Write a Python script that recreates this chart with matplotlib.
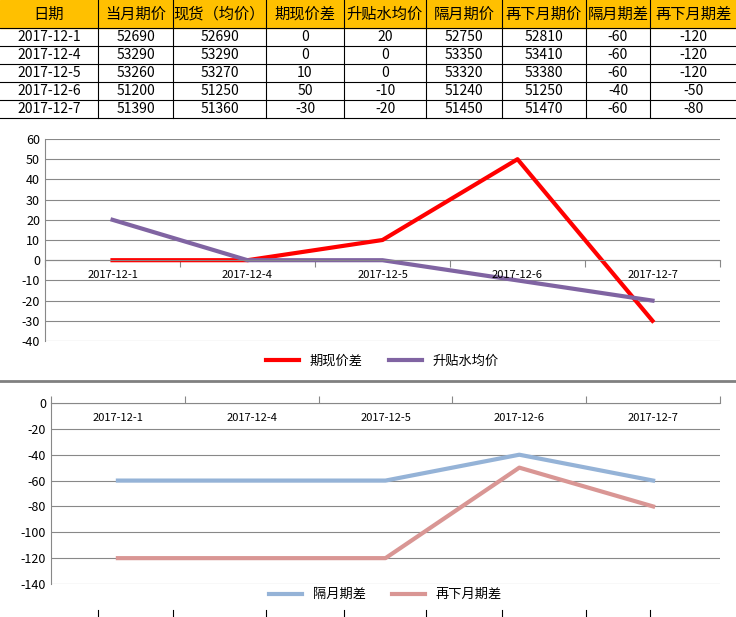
import matplotlib.pyplot as plt
from matplotlib.patches import Rectangle

plt.rcParams["font.family"] = ["Noto Sans CJK SC"]
plt.rcParams["axes.unicode_minus"] = False

dates = ["2017-12-1", "2017-12-4", "2017-12-5", "2017-12-6", "2017-12-7"]
headers = ["日期", "当月期价", "现货（均价）", "期现价差", "升贴水均价", "隔月期价", "再下月期价", "隔月期差", "再下月期差"]
cur_month = [52690, 53290, 53260, 51200, 51390]
spot = [52690, 53290, 53270, 51250, 51360]
basis = [0, 0, 10, 50, -30]
premium = [20, 0, 0, -10, -20]
next_month = [52750, 53350, 53320, 51240, 51450]
next2_month = [52810, 53410, 53380, 51250, 51470]
next_diff = [-60, -60, -60, -40, -60]
next2_diff = [-120, -120, -120, -50, -80]

W, H = 736, 617
fig = plt.figure(figsize=(W / 100, H / 100), dpi=100)

def box(x0, y0, x1, y1):
    return [x0 / W, 1 - y1 / H, (x1 - x0) / W, (y1 - y0) / H]

# table
tab = fig.add_axes([0, 0, 1, 1])
tab.set_xlim(0, W)
tab.set_ylim(H, 0)
tab.axis("off")
cols = [0, 98, 173, 266, 344, 426, 502, 586, 650, 736]
rows_y = [0, 28, 46, 64, 82, 100, 118]
tab.add_patch(Rectangle((0, 0), W, 28, color="#ffc000", zorder=0))
for i, h in enumerate(headers):
    tab.text((cols[i] + cols[i + 1]) / 2, 14, h, ha="center", va="center", fontsize=11)
table_rows = list(zip(dates, cur_month, spot, basis, premium, next_month, next2_month, next_diff, next2_diff))
for r, vals in enumerate(table_rows):
    yc = (rows_y[r + 1] + rows_y[r + 2]) / 2
    for i, v in enumerate(vals):
        tab.text((cols[i] + cols[i + 1]) / 2, yc, str(v), ha="center", va="center", fontsize=10)
for x in cols[1:-1]:
    tab.plot([x, x], [0, 118], color="black", lw=0.8)
for y in rows_y[1:]:
    tab.plot([0, W], [y, y], color="black", lw=0.8)
tab.plot([0, W], [381, 381], color="#808080", lw=2)
for x in [98, 173, 266, 344, 426, 502, 586, 650]:
    tab.plot([x, x], [610, 617], color="black", lw=0.8)


def chart(rect, series, colors, names, ylo, yhi, step, legend_y, tickdir):
    ax = fig.add_axes(rect)
    xs = range(len(dates))
    for s, c, n in zip(series, colors, names):
        ax.plot(xs, s, color=c, lw=3, label=n)
    ax.set_xlim(-0.5, len(dates) - 0.5)
    ax.set_ylim(ylo, yhi)
    ax.set_yticks(range(ylo, yhi + 1, step))
    ax.yaxis.grid(True, color="#888888", lw=0.8)
    ax.set_axisbelow(True)
    for sp in ["top", "right"]:
        ax.spines[sp].set_visible(False)
    ax.spines["left"].set_color("#888888")
    ax.spines["bottom"].set_position(("data", 0))
    ax.spines["bottom"].set_color("#888888")
    ax.set_xticks([x + 0.5 for x in range(-1, len(dates))])
    ax.set_xticklabels([])
    ax.tick_params(axis="x", length=5, color="#888888", direction=tickdir)
    ax.tick_params(axis="y", labelsize=9, length=0)
    for x, d in enumerate(dates):
        ax.annotate(d, (x, 0), xytext=(0, -11), textcoords="offset points",
                    ha="center", va="center", fontsize=8)
    ax.legend(loc="center", bbox_to_anchor=(0.5, legend_y), ncol=2, frameon=False,
              fontsize=9.5, handlelength=2.5)
    return ax

chart(box(45, 139, 720, 341), [basis, premium], ["#ff0000", "#8064a2"], ["期现价差", "升贴水均价"],
      -40, 60, 10, -0.1, "out")
chart(box(51, 403, 720, 584), [next_diff, next2_diff], ["#95b3d7", "#d99694"], ["隔月期差", "再下月期差"],
      -140, 0, 20, -0.06, "in")

fig.savefig("out.png", dpi=100)
